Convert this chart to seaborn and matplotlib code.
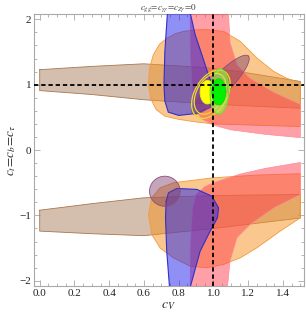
import numpy as np
import matplotlib
matplotlib.use("Agg")
import matplotlib.pyplot as plt
from matplotlib.ticker import MultipleLocator
import seaborn as sns

# region outlines: (c_V, c_t) boundary points
brown_up_cv = [0.0, 0.3, 0.6, 0.96, 1.15, 1.5, 1.5, 1.0, 0.6, 0.3, 0.0]
brown_up_c = [1.23, 1.28, 1.32, 1.26, 1.20, 1.05, 0.64, 0.70, 0.77, 0.85, 0.91]
brown_lo_cv = [0.0, 0.3, 0.6, 0.96, 1.15, 1.5, 1.5, 1.0, 0.6, 0.3, 0.0]
brown_lo_c = [-0.92, -0.82, -0.73, -0.70, -0.69, -0.68, -1.04, -1.20, -1.31, -1.28, -1.24]

orange_up_cv = [0.626, 0.632, 0.654, 0.69, 0.731, 0.78, 0.828, 0.9, 0.962, 1.058, 1.154, 1.25,
                1.346, 1.42, 1.5, 1.5, 1.25, 1.0, 0.9, 0.85, 0.8, 0.72, 0.67, 0.64]
orange_up_c = [1.0, 1.25, 1.46, 1.62, 1.71, 1.78, 1.816, 1.84, 1.842, 1.816, 1.663, 1.408,
               1.204, 1.10, 1.026, 0.36, 0.38, 0.40, 0.43, 0.45, 0.47, 0.52, 0.62, 0.78]
orange_lo_cv = [0.626, 0.645, 0.693, 0.77, 0.998, 1.25, 1.5, 1.5, 1.384, 1.25, 1.154, 1.058,
                0.962, 0.866, 0.77, 0.693, 0.645]
orange_lo_c = [-0.985, -0.73, -0.577, -0.50, -0.424, -0.383, -0.362, -1.036, -1.24, -1.495,
               -1.649, -1.75, -1.80, -1.777, -1.65, -1.50, -1.29]

pink_up_cv = [0.866, 0.868, 0.872, 0.88, 0.895, 0.93, 1.0, 1.1, 1.3, 1.5,
              1.5, 1.35, 1.21, 1.135, 1.095, 1.086]
pink_up_c = [2.1, 1.6, 1.2, 0.85, 0.62, 0.48, 0.38, 0.31, 0.24, 0.19,
             0.70, 0.88, 1.10, 1.30, 1.65, 2.1]
pink_lo_cv = [0.866, 0.868, 0.872, 0.88, 0.9, 0.95, 1.0, 1.15, 1.3, 1.5,
              1.5, 1.35, 1.21, 1.135, 1.095, 1.08]
pink_lo_c = [-2.1, -1.6, -1.2, -0.88, -0.68, -0.56, -0.5, -0.37, -0.28, -0.19,
             -0.68, -0.88, -1.14, -1.34, -1.7, -2.1]

blue_up_cv = [0.735, 0.866, 0.894, 0.933, 0.971, 1.0, 1.01, 0.98, 0.9, 0.8, 0.74, 0.72, 0.715, 0.72]
blue_up_c = [2.1, 2.1, 1.77, 1.46, 1.15, 0.95, 0.80, 0.65, 0.56, 0.53, 0.58, 0.75, 1.0, 1.5]
blue_lo_cv = [0.7275, 0.741, 0.789, 0.904, 0.990, 1.029, 1.023, 0.981, 0.923, 0.866, 0.747, 0.731, 0.724]
blue_lo_c = [-0.781, -0.653, -0.587, -0.602, -0.704, -0.883, -1.036, -1.24, -1.547, -2.1, -2.1, -1.547, -1.036]

# ellipses: centre, two conjugate semi-diameters (c_V, c_t)
mauve_up = [(1.04, 1.0), (0.16, 0.44), (0.043, -0.10)]
mauve_lo = [(0.72, -0.63), (0.088, 0.0), (0.0, 0.23)]
yellow_ring_out = [(0.985, 0.855), (0.11, 0.105), (0.015, 0.355)]
yellow_ring_in = [(0.98, 0.86), (0.09, 0.085), (0.012, 0.30)]
yellow_fill = [(0.965, 0.885), (0.042, 0.0), (0.0, 0.18)]
green_out = [(1.034, 0.895), (0.053, 0.0), (0.004, 0.345)]
green_fill = [(1.03, 0.89), (0.04, 0.0), (0.0, 0.20)]

xticks = [0.0, 0.2, 0.4, 0.6, 0.8, 1.0, 1.2, 1.4]
yticks = [-2, -1, 0, 1, 2]


def ellipse_pts(e, n=80):
    (x0, y0), (ax_, ay_), (bx_, by_) = e
    t = np.linspace(0, 2 * np.pi, n)
    return x0 + ax_ * np.cos(t) + bx_ * np.sin(t), y0 + ay_ * np.cos(t) + by_ * np.sin(t)


sns.set_theme(style="ticks")
plt.rcParams["font.family"] = ["Liberation Serif", "DejaVu Serif"]
plt.rcParams["mathtext.fontset"] = "stix"

fig = plt.figure(figsize=(3.06, 3.18), dpi=100)
ax = fig.add_axes([0.111, 0.1006, 0.882, 0.855])


def region(xs, ys, fc, alpha, ec, z, lw=0.6):
    xs = list(xs) + [xs[0]]
    ys = list(ys) + [ys[0]]
    ax.fill(xs, ys, color=fc, alpha=alpha, lw=0, zorder=z)
    sns.lineplot(x=xs, y=ys, sort=False, estimator=None, color=ec, lw=lw, zorder=z + 0.1, ax=ax)


region(brown_up_cv, brown_up_c, "#a0704a", 0.45, "#a87850", 1)
region(brown_lo_cv, brown_lo_c, "#a0704a", 0.45, "#a87850", 1)
region(orange_up_cv, orange_up_c, "#f7931e", 0.5, "#f39a3a", 2)
region(orange_lo_cv, orange_lo_c, "#f7931e", 0.5, "#f39a3a", 2)
region(pink_up_cv, pink_up_c, "#ff4050", 0.5, "#ff8a94", 3, 0.5)
region(pink_lo_cv, pink_lo_c, "#ff4050", 0.5, "#ff8a94", 3, 0.5)
region(blue_up_cv, blue_up_c, "#2020ee", 0.5, "#3030c8", 4, 0.8)
region(blue_lo_cv, blue_lo_c, "#2020ee", 0.5, "#3030c8", 4, 0.8)
for e in (mauve_up, mauve_lo):
    region(*ellipse_pts(e), "#7a3a6a", 0.45, "#8a5078", 5)
for e in (yellow_ring_out, yellow_ring_in):
    xe, ye = ellipse_pts(e)
    ax.plot(xe, ye, color="#e6e020", lw=0.9, zorder=6)
region(*ellipse_pts(yellow_fill), "#ffff00", 1.0, "#f0f000", 6.2)
region(*ellipse_pts(green_out), "#9cff50", 0.55, "#70e030", 6.4, 0.9)
region(*ellipse_pts(green_fill), "#00f000", 1.0, "#00e000", 6.6)

ax.axhline(1, color="black", lw=1.3, ls=(0, (2.4, 1.6)), zorder=8)
ax.axvline(1, color="black", lw=1.3, ls=(0, (2.4, 1.6)), zorder=8)

ax.set_xlim(-0.033, 1.52)
ax.set_ylim(-2.08, 2.08)
ax.set_xticks(xticks)
ax.set_xticklabels([f"{v:.1f}" for v in xticks])
ax.set_yticks(yticks)
ax.set_yticklabels(["\u22122", "\u22121", "0", "1", "2"])
ax.xaxis.set_minor_locator(MultipleLocator(0.05))
ax.yaxis.set_minor_locator(MultipleLocator(0.2))
ax.tick_params(which="both", direction="in", top=True, right=True, color="#a8a8a8",
               width=0.6, labelsize=8, labelcolor="#222222", pad=2)
ax.tick_params(which="major", length=4)
ax.tick_params(which="minor", length=2)
for s in ax.spines.values():
    s.set_color("#a8a8a8")
    s.set_linewidth(0.8)

ax.set_xlabel("$c_V$", fontsize=10, labelpad=1)
ax.set_ylabel("$c_t\\!=\\!c_b\\!=\\!c_\\tau$", fontsize=9.5, labelpad=1)
ax.set_title("$c_{gg}\\!=\\!c_{\\gamma\\gamma}\\!=\\!c_{Z\\gamma}\\!=\\!0$", fontsize=6.5, pad=2, color="#333333")

fig.savefig("out.png", dpi=100)
